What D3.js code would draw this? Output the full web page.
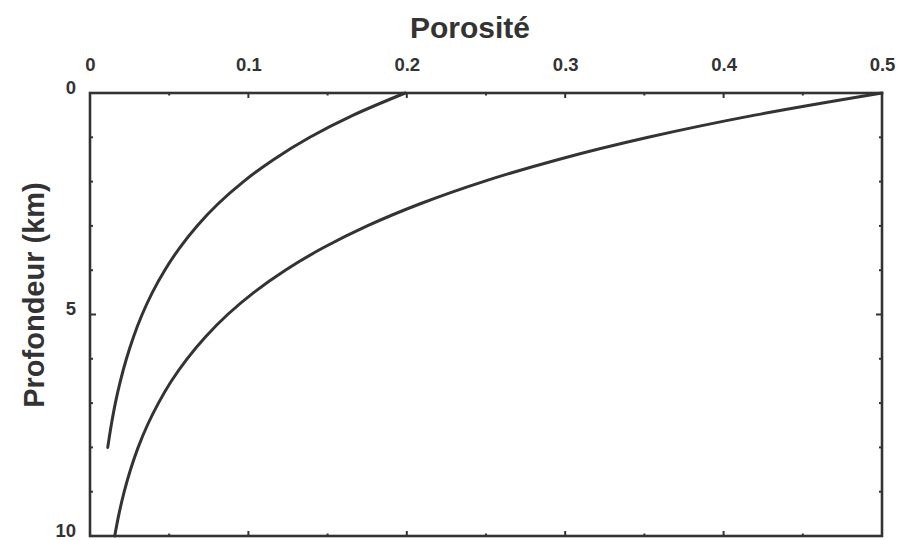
<!DOCTYPE html>
<html><head><meta charset="utf-8">
<script src="https://cdn.jsdelivr.net/npm/d3@7"></script>
<style>
body{margin:0;background:#fff;}
text{font-family:"Liberation Sans",Arial,Helvetica,sans-serif;font-weight:bold;fill:#333;}
</style></head>
<body>
<svg id="chart" width="899" height="540"></svg>
<script>
// Data (depth in km, porosity as fraction)
const depthsInner = [0, 0.5, 1, 1.5, 2, 2.5, 3, 3.5, 4, 4.5, 5, 5.5, 6, 6.5, 7, 7.5, 8];
const porosityInner = [0.1990, 0.1662, 0.1388, 0.1160, 0.0969, 0.0809, 0.0676, 0.0565, 0.0472, 0.0394, 0.0329, 0.0275, 0.0230, 0.0192, 0.0160, 0.0134, 0.0112];
const depthsOuter = [0, 0.5, 1, 1.5, 2, 2.5, 3, 3.5, 4, 4.5, 5, 5.5, 6, 6.5, 7, 7.5, 8, 8.5, 9, 9.5, 10];
const porosityOuter = [0.5000, 0.4197, 0.3524, 0.2958, 0.2483, 0.2085, 0.1750, 0.1469, 0.1233, 0.1035, 0.0869, 0.0730, 0.0613, 0.0514, 0.0432, 0.0362, 0.0304, 0.0256, 0.0216, 0.0183, 0.0156];
const xTickLabels = ["0", "0.1", "0.2", "0.3", "0.4", "0.5"];
const xTicks = [0, 0.1, 0.2, 0.3, 0.4, 0.5];
const yTickLabels = ["0", "5", "10"];
const yTicks = [0, 5, 10];
const xTitle = "Porosité";
const yTitle = "Profondeur (km)";

const svg = d3.select("#chart");
const L = 90, R = 882, T = 93, B = 536;
const x = d3.scaleLinear().domain([0, 0.5]).range([L, R]);
const y = d3.scaleLinear().domain([0, 10]).range([T, B]);
const ink = "#333";

// Top axis labels
const xAxisTop = d3.axisTop(x).tickValues(xTicks).tickFormat((d,i)=>xTickLabels[i]).tickSize(0).tickPadding(0);
const gx = svg.append("g").attr("transform", `translate(0,${T - 22})`).call(xAxisTop);
gx.select(".domain").remove();
gx.selectAll("text").style("font-size","18.5px").attr("fill", ink).attr("font-family", null);

// Left axis labels
const yAxisLeft = d3.axisLeft(y).tickValues(yTicks).tickFormat((d,i)=>yTickLabels[i]).tickSize(0).tickPadding(0);
const gy = svg.append("g").attr("transform", `translate(${L - 14},0)`).call(yAxisLeft);
gy.select(".domain").remove();
gy.selectAll("text").style("font-size","18.5px").attr("fill", ink).attr("font-family", null).attr("dy","0.02em");

// Inward ticks on all four sides
const xMinor = d3.range(0, 0.5001, 0.05);
const yMinor = d3.range(0, 10.001, 1);
const tk = svg.append("g").attr("stroke", ink).attr("stroke-width", 2);
xMinor.forEach(v => {
  const major = Math.abs(v*10 - Math.round(v*10)) < 1e-6;
  const len = major ? 5 : 2.5;
  tk.append("line").attr("x1", x(v)).attr("x2", x(v)).attr("y1", T).attr("y2", T + len);
  tk.append("line").attr("x1", x(v)).attr("x2", x(v)).attr("y1", B).attr("y2", B - len);
});
yMinor.forEach(v => {
  const major = v % 5 === 0;
  const len = major ? 6 : 3;
  tk.append("line").attr("y1", y(v)).attr("y2", y(v)).attr("x1", L).attr("x2", L + len);
  tk.append("line").attr("y1", y(v)).attr("y2", y(v)).attr("x1", R).attr("x2", R - len);
});

// Frame
svg.append("rect").attr("x", L).attr("y", T).attr("width", R - L).attr("height", B - T)
  .attr("fill", "none").attr("stroke", ink).attr("stroke-width", 2.6);

// Curves
const line = d3.line().x(d => x(d[0])).y(d => y(d[1])).curve(d3.curveCatmullRom.alpha(0.5));
const inner = porosityInner.map((p,i)=>[p, depthsInner[i]]);
const outer = porosityOuter.map((p,i)=>[p, depthsOuter[i]]);
[inner, outer].forEach(s => {
  svg.append("path").datum(s).attr("d", line).attr("fill","none")
    .attr("stroke", ink).attr("stroke-width", 3).attr("stroke-linecap","round");
});

// Titles
svg.append("text").attr("x", 470).attr("y", 38).attr("text-anchor","middle")
  .style("font-size","30px").text(xTitle);
svg.append("text").attr("transform", "translate(44,295) rotate(-90)").attr("text-anchor","middle")
  .style("font-size","29px").text(yTitle);
</script>
</body></html>
